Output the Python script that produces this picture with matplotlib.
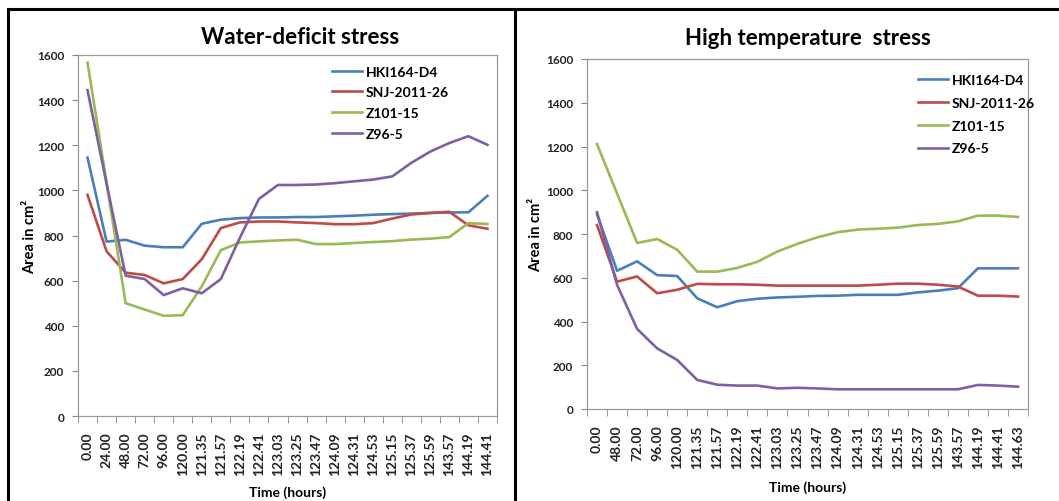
import matplotlib
matplotlib.use("Agg")
from matplotlib import pyplot as plt
from matplotlib.lines import Line2D

plt.rcParams['font.family'] = ['Lato', 'DejaVu Sans']

# category labels (hours)
times_water = ['0.00', '24.00', '48.00', '72.00', '96.00', '120.00', '121.35', '121.57',
               '122.19', '122.41', '123.03', '123.25', '123.47', '124.09', '124.31',
               '124.53', '125.15', '125.37', '125.59', '143.57', '144.19', '144.41']
times_heat = ['0.00', '48.00', '72.00', '96.00', '120.00', '121.35', '121.57', '122.19',
              '122.41', '123.03', '123.25', '123.47', '124.09', '124.31', '124.53',
              '125.15', '125.37', '125.59', '143.57', '144.19', '144.41', '144.63']

names = ['HKI164-D4', 'SNJ-2011-26', 'Z101-15', 'Z96-5']
colors = ['#4A7EBB', '#BE4B48', '#98B954', '#7D60A0']

# water-deficit stress, area in cm2
water_hki = [1145, 773, 781, 755, 748, 748, 852, 870, 877, 880, 880, 882, 882, 885,
             888, 892, 895, 897, 900, 902, 903, 976]
water_snj = [980, 730, 635, 625, 588, 607, 695, 833, 858, 862, 862, 858, 855, 850,
             850, 855, 875, 893, 900, 905, 845, 830]
water_z101 = [1566, 1035, 500, 472, 444, 447, 575, 735, 769, 774, 778, 781, 762, 762,
              767, 771, 775, 782, 786, 793, 855, 851]
water_z96 = [1444, 1030, 622, 607, 536, 566, 544, 607, 790, 962, 1024, 1024, 1026, 1032,
             1040, 1048, 1062, 1122, 1172, 1210, 1240, 1202]

# high temperature stress, area in cm2
heat_hki = [890, 632, 675, 612, 608, 506, 465, 493, 504, 510, 513, 517, 518, 522,
            522, 522, 533, 541, 552, 643, 643, 643]
heat_snj = [841, 582, 606, 529, 545, 572, 570, 570, 568, 564, 564, 564, 564, 564,
            568, 573, 573, 568, 560, 518, 518, 514]
heat_z101 = [1211, 985, 759, 777, 728, 628, 628, 645, 673, 720, 755, 785, 808, 820,
             824, 829, 841, 846, 858, 884, 884, 878]
heat_z96 = [899, 567, 366, 277, 224, 133, 111, 107, 107, 94, 97, 94, 90, 90,
            90, 90, 90, 90, 90, 110, 107, 102]

W, H = 1059, 502
fig = plt.figure(figsize=(W / 100, H / 100), dpi=100)


def px_axes(x0, y0, x1, y1):
    return fig.add_axes([x0 / W, 1 - y1 / H, (x1 - x0) / W, (y1 - y0) / H])


def style(ax, labels, series, title, title_x, title_y, xlab_y, ylab_x, leg_anchor, leg_space):
    for vals, name, c in zip(series, names, colors):
        ax.plot(range(len(labels)), vals, color=c, lw=1.9, label=name)
    ax.set_ylim(0, 1600)
    ax.set_yticks(range(0, 1601, 200))
    ax.set_xlim(-0.5, len(labels) - 0.5)
    ax.set_xticks(range(len(labels)))
    ax.set_xticklabels(labels, rotation=90, fontsize=10, fontweight='bold', color='#222222')
    ax.set_xticks([i - 0.5 for i in range(len(labels) + 1)], minor=True)
    ax.tick_params(axis='x', which='major', length=0, pad=11)
    ax.tick_params(axis='x', which='minor', length=5, color='#888888', direction='out')
    ax.tick_params(axis='y', length=4, pad=6, color='#888888', labelsize=8.5)
    for lab in ax.get_yticklabels():
        lab.set_fontweight('bold')
        lab.set_color('#222222')
    for s in ax.spines.values():
        s.set_color('#999999')
        s.set_linewidth(0.9)
    ax.set_title(title, fontsize=16, fontweight='bold', x=title_x, y=title_y)
    ax.set_ylabel('Area in cm²', fontsize=10.5, fontweight='bold')
    ax.yaxis.set_label_coords(ylab_x, 0.5)
    ax.set_xlabel('Time (hours)', fontsize=10, fontweight='bold')
    ax.xaxis.label.set_va('center')
    ax.xaxis.set_label_coords(0.5, xlab_y)
    ax.legend(loc='upper left', bbox_to_anchor=leg_anchor, frameon=False, borderpad=0,
              handlelength=2.15, handletextpad=0.25, labelspacing=leg_space,
              prop={'weight': 'bold', 'size': 10})


ax1 = px_axes(78, 56, 497, 417)
style(ax1, times_water, [water_hki, water_snj, water_z101, water_z96],
      'Water-deficit stress', 0.53, 1.01, -0.21, -0.098, (0.59, 0.99), 0.63)

ax2 = px_axes(587, 60, 1028, 410)
style(ax2, times_heat, [heat_hki, heat_snj, heat_z101, heat_z96],
      'High temperature  stress', 0.5, 1.02, -0.223, -0.10, (0.735, 0.977), 0.78)

# outer frame lines
for xs, ys in [((8, 1059), (10, 10)), ((8, 8), (10, 502)), ((515, 515), (10, 502))]:
    fig.add_artist(Line2D([x / W for x in xs], [1 - y / H for y in ys],
                          color='black', lw=2.2, transform=fig.transFigure))

fig.savefig('out.png', dpi=100)
